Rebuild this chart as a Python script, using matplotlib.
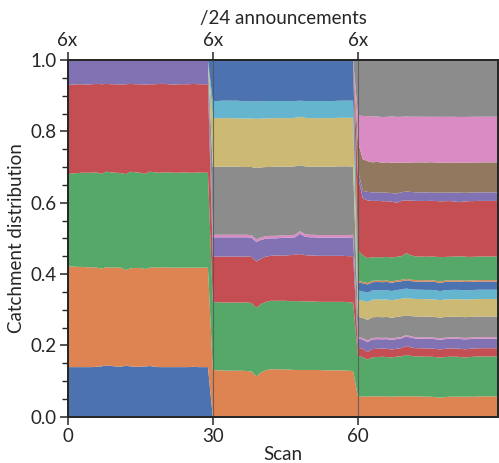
import numpy as np
import matplotlib
matplotlib.use("Agg")
import matplotlib.pyplot as plt
from matplotlib.ticker import MultipleLocator

# ---------------- data (thousandths of catchment, per scan) ----------------
scans = list(range(90))
segment_starts = [0, 30, 60]
segment_len = 30

# Segment 1 (scans 0-29)
seg1_s0 = [139,139,139,139,139,139,140,141,144,142,141,140,143,141,140,140,141,142,140,139,139,139,139,139,139,139,140,139,139,139]
seg1_s1 = [282,282,281,281,280,280,278,274,275,276,277,278,268,275,277,277,273,276,278,279,280,279,279,279,279,279,278,279,279,279]
seg1_s2 = [259,261,263,264,265,265,267,266,268,267,266,265,269,271,268,267,267,269,267,266,266,267,266,266,267,266,266,267,266,266]
seg1_s3 = [250,249,249,248,247,248,248,251,246,247,248,248,252,246,247,248,250,245,247,249,248,247,247,248,247,248,249,247,248,248]
seg1_s4 = [70,69,68,68,69,68,67,68,67,68,68,69,68,67,68,68,69,68,68,67,67,68,69,68,68,68,67,68,68,68]

# Segment 2 (scans 30-59)
seg2_s1 = [131,130,130,129,129,129,129,128,127,113,124,131,133,133,133,132,132,131,131,131,131,131,131,130,130,130,130,130,129,128]
seg2_s2 = [190,191,190,191,191,191,191,192,192,192,192,191,192,192,192,193,192,193,193,192,192,192,191,192,192,192,192,192,192,192]
seg2_s3 = [128,128,129,129,129,129,129,129,129,130,127,127,126,127,127,127,129,130,132,130,129,129,129,129,129,129,129,129,129,130]
seg2_s4 = [54,54,54,54,54,54,54,54,54,55,53,50,49,48,49,50,49,49,57,52,51,51,51,51,51,51,51,51,52,53]
seg2_s6 = [7]*30
seg2_s7 = [190,191,191,191,191,191,190,190,191,200,196,194,193,194,193,192,192,192,185,190,191,191,192,192,192,192,193,193,193,191]
seg2_s8 = [137,136,136,136,136,135,136,136,136,138,137,136,137,136,136,136,136,136,136,136,136,136,136,136,136,136,136,136,136,137]
seg2_s9 = [48,48,49,49,49,50,49,48,48,49,48,49,48,48,48,48,48,47,45,47,48,48,48,48,48,48,48,48,48,48]
seg2_s10 = [115,115,114,114,114,114,115,116,116,116,116,115,115,115,115,115,115,115,114,115,115,115,115,115,115,115,114,114,114,114]

# Segment 3 (scans 60-89)
seg3_s1 = [57,57,56,57,57,57,57,56,57,57,57,57,57,57,56,56,55,53,55,56,56,56,56,56,56,57,57,57,57,57]
seg3_s2 = [113,110,104,109,110,111,110,110,111,112,116,113,112,112,112,112,112,112,112,112,112,111,109,111,112,112,112,112,112,112]
seg3_s3 = [24,23,21,23,23,23,23,22,22,23,25,24,23,23,23,23,23,23,23,23,23,23,23,23,23,23,23,23,23,23]
seg3_s4 = [26,26,28,27,27,26,27,27,27,27,27,27,27,27,27,27,27,27,27,27,27,27,28,27,27,27,27,27,27,27]
seg3_s6 = [4]*30
seg3_s7 = [56,57,58,58,58,58,58,58,58,58,55,57,58,58,58,58,58,58,58,58,58,58,58,58,58,58,58,58,58,58]
seg3_s8 = [48,48,50,49,49,49,49,49,49,49,49,49,49,49,49,49,49,49,49,49,49,49,49,49,49,49,49,49,49,49]
seg3_s9 = [26,26,26,26,26,26,26,26,26,26,26,26,26,26,26,26,26,25,26,26,26,26,26,26,26,26,26,26,26,26]
seg3_s10 = [23]*30
seg3_s11 = [4]*30
seg3_s12 = [86,74,70,66,65,66,66,67,66,66,72,68,66,66,66,66,67,68,66,66,66,67,67,66,66,66,66,66,66,66]
seg3_s13 = [206,160,161,157,158,157,156,156,151,155,148,154,156,156,156,156,156,156,156,156,154,151,154,156,156,156,156,156,156,156]
seg3_s14 = [19,21,24,24,24,24,24,24,26,24,25,24,24,24,24,24,24,24,24,24,25,27,24,24,24,24,24,24,24,24]
seg3_s15 = [78,89,86,84,85,84,85,85,86,83,80,83,84,84,84,84,84,84,84,84,84,83,84,84,84,84,84,84,84,84]
seg3_s16 = [75,121,126,128,127,128,127,130,128,128,130,128,128,128,128,127,128,128,128,128,128,128,128,128,128,128,128,128,128,128]
seg3_s17 = [155,157,157,158,158,160,159,158,159,159,158,159,159,159,159,159,159,159,159,159,159,159,159,159,159,159,159,159,159,159]

x_ticks = [0, 30, 60]
x_tick_labels = ["0", "30", "60"]
top_tick_labels = ["6x", "6x", "6x"]
y_ticks = [0.0, 0.2, 0.4, 0.6, 0.8, 1.0]
n_series = 18

palette = ["#4C72B0", "#DD8452", "#55A868", "#C44E52", "#8172B3",
           "#937860", "#DA8BC3", "#8C8C8C", "#CCB974", "#64B5CD"]

segments = [
    {0: seg1_s0, 1: seg1_s1, 2: seg1_s2, 3: seg1_s3, 4: seg1_s4},
    {1: seg2_s1, 2: seg2_s2, 3: seg2_s3, 4: seg2_s4, 6: seg2_s6, 7: seg2_s7,
     8: seg2_s8, 9: seg2_s9, 10: seg2_s10},
    {1: seg3_s1, 2: seg3_s2, 3: seg3_s3, 4: seg3_s4, 6: seg3_s6, 7: seg3_s7,
     8: seg3_s8, 9: seg3_s9, 10: seg3_s10, 11: seg3_s11, 12: seg3_s12,
     13: seg3_s13, 14: seg3_s14, 15: seg3_s15, 16: seg3_s16, 17: seg3_s17},
]

values = np.zeros((n_series, len(scans)))
for start, seg in zip(segment_starts, segments):
    for s, arr in seg.items():
        values[s, start:start + segment_len] = arr
values = values / values.sum(axis=0)

# ---------------- plot ----------------
plt.rcParams['font.family'] = ['Lato', 'DejaVu Sans']
text_color = '#262626'
fs = 13.5

fig = plt.figure(figsize=(4.99, 4.63), dpi=100)
ax = fig.add_axes([0.1355, 0.1000, 0.8631, 0.7704])

ax.stackplot(scans, values, colors=[palette[i % 10] for i in range(n_series)],
             linewidth=0, antialiased=True)
for xv in x_ticks[1:]:
    ax.axvline(xv, color='#555555', lw=0.8, alpha=0.8, zorder=3)

ax.set_xlim(0, 89)
ax.set_ylim(0, 1)
ax.set_xticks(x_ticks)
ax.set_xticklabels(x_tick_labels)
ax.set_yticks(y_ticks)
ax.set_yticklabels([f"{v:.1f}" for v in y_ticks])
ax.yaxis.set_minor_locator(MultipleLocator(0.05))
ax.set_xlabel("Scan", fontsize=fs, color=text_color, labelpad=1)
ax.set_ylabel("Catchment distribution", fontsize=fs, color=text_color, labelpad=4)
ax.tick_params(axis='both', which='major', labelsize=fs, length=6, width=1.1,
               colors=text_color, direction='out', pad=2)
ax.tick_params(axis='y', which='minor', length=4, width=1.0, colors=text_color)

ax2 = ax.twiny()
ax2.set_xlim(ax.get_xlim())
ax2.set_xticks(x_ticks)
ax2.set_xticklabels(top_tick_labels)
ax2.set_xlabel("/24 announcements", fontsize=fs, color=text_color, labelpad=6)
ax2.tick_params(axis='x', which='major', labelsize=fs, length=6, width=1.1,
                colors=text_color, direction='out', pad=2)

for a in (ax, ax2):
    for sp in a.spines.values():
        sp.set_linewidth(1.3)
        sp.set_color(text_color)

fig.savefig("out.png", dpi=100)
